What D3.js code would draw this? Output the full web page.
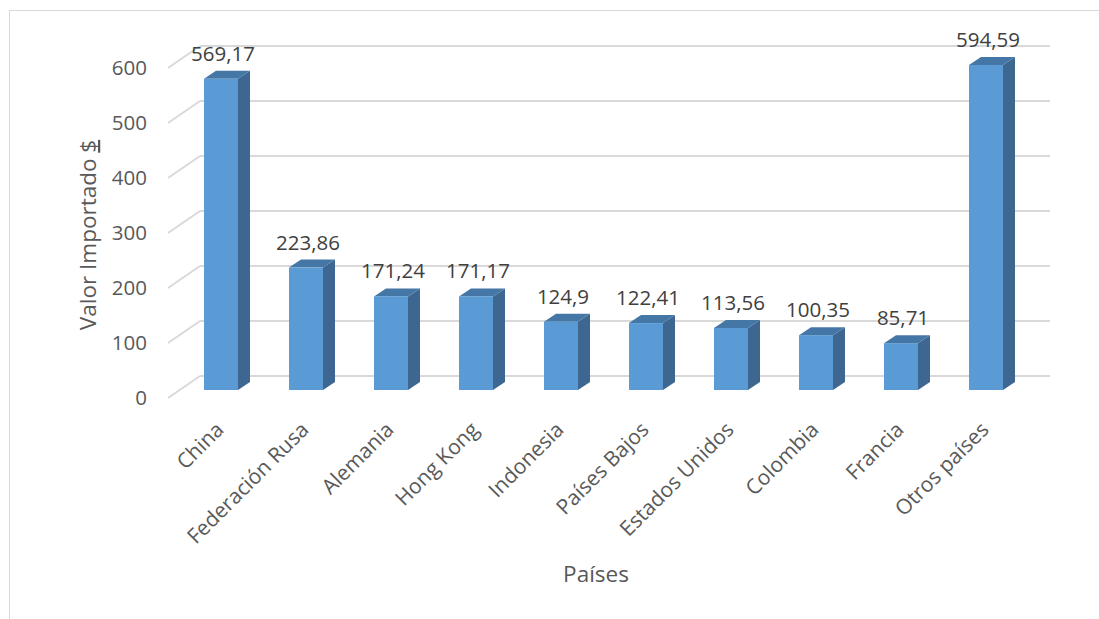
<!DOCTYPE html>
<html>
<head>
<meta charset="utf-8">
<script src="https://cdn.jsdelivr.net/npm/d3@7"></script>
<style>
  html, body { margin: 0; padding: 0; background: #ffffff; }
  svg { display: block; font-family: "Open Sans", "Noto Sans", sans-serif; }
</style>
</head>
<body>
<svg id="chart" width="1099" height="619"></svg>
<script>
const categories = ["China", "Federación Rusa", "Alemania", "Hong Kong", "Indonesia",
  "Países Bajos", "Estados Unidos", "Colombia", "Francia", "Otros países"];
const values = [569.17, 223.86, 171.24, 171.17, 124.9, 122.41, 113.56, 100.35, 85.71, 594.59];
const valueLabels = ["569,17", "223,86", "171,24", "171,17", "124,9", "122,41", "113,56", "100,35", "85,71", "594,59"];
const yTicks = [0, 100, 200, 300, 400, 500, 600];
const yTitle = "Valor Importado ";
const yTitleUnit = "$";
const xTitle = "Países";

const svg = d3.select("#chart");

// chart border
svg.append("rect")
  .attr("x", 9.5).attr("y", 10.5).attr("width", 1200).attr("height", 700)
  .attr("fill", "none").attr("stroke", "#d9d9d9").attr("stroke-width", 1);

// 3D geometry
const depth = { dx: 32, dy: -22 };     // floor depth (front -> back wall)
const barDepth = { dx: 12, dy: -8 };   // bar thickness
const barWidth = 34;

// front plane scale (axis labels) and back wall scale
const yFront = d3.scaleLinear().domain([0, 600]).range([398, 68]);
const yBack = v => yFront(v) + depth.dy;
// bars sit partway into the depth
const yBar = d3.scaleLinear().domain([0, 600]).range([390, 390 - 328]);

const x = d3.scalePoint().domain(categories).range([221, 986]);

const gridColor = "#d9d9d9";
const gx0 = 168, gx1 = 168 + depth.dx, gx2 = 1050;

// back wall gridlines + left side diagonals
const grid = svg.append("g");
yTicks.forEach(t => {
  grid.append("line")
    .attr("x1", gx1).attr("x2", gx2)
    .attr("y1", yBack(t)).attr("y2", yBack(t))
    .attr("stroke", gridColor).attr("stroke-width", 2);
  grid.append("line")
    .attr("x1", gx0).attr("y1", yFront(t))
    .attr("x2", gx1).attr("y2", yBack(t))
    .attr("stroke", gridColor).attr("stroke-width", 2);
});

// y tick labels
svg.append("g").selectAll("text").data(yTicks).join("text")
  .attr("x", 147).attr("y", d => yFront(d))
  .attr("dy", "0.35em")
  .attr("text-anchor", "end")
  .attr("font-size", 20.5)
  .attr("fill", "#595959")
  .text(d => d);

// bars
const data = categories.map((c, i) => ({ c, v: values[i], lab: valueLabels[i] }));
const bars = svg.append("g").selectAll("g").data(data).join("g");

bars.each(function(d) {
  const g = d3.select(this);
  const xl = x(d.c) - barWidth / 2, xr = x(d.c) + barWidth / 2;
  const yt = yBar(d.v), yb = yBar(0);
  const ddx = barDepth.dx, ddy = barDepth.dy;
  // side face
  g.append("path")
    .attr("d", `M${xr},${yb} L${xr + ddx},${yb + ddy} L${xr + ddx},${yt + ddy} L${xr},${yt} Z`)
    .attr("fill", "#3d6790");
  // top face
  g.append("path")
    .attr("d", `M${xl},${yt} L${xl + ddx},${yt + ddy} L${xr + ddx},${yt + ddy} L${xr},${yt} Z`)
    .attr("fill", "#4577a6");
  // front face
  g.append("rect")
    .attr("x", xl).attr("y", yt)
    .attr("width", barWidth).attr("height", yb - yt)
    .attr("fill", "#5b9bd5");
  // value label
  g.append("text")
    .attr("x", x(d.c) + 2).attr("y", yt + ddy - 10)
    .attr("text-anchor", "middle")
    .attr("font-size", 20.5)
    .attr("fill", "#404040")
    .text(d.lab);
});

// x category labels
svg.append("g").selectAll("text").data(categories).join("text")
  .attr("transform", d => `translate(${x(d) + 4},431) rotate(-45)`)
  .attr("text-anchor", "end")
  .attr("font-size", 21)
  .attr("fill", "#595959")
  .text(d => d);

// axis titles
const yt = svg.append("text")
  .attr("transform", "translate(96,235) rotate(-90)")
  .attr("text-anchor", "middle")
  .attr("font-size", 22.5)
  .attr("fill", "#595959");
yt.append("tspan").text(yTitle);
yt.append("tspan").attr("text-decoration", "underline").text(yTitleUnit);

svg.append("text")
  .attr("x", 596).attr("y", 582)
  .attr("text-anchor", "middle")
  .attr("font-size", 22.5)
  .attr("fill", "#595959")
  .text(xTitle);
</script>
</body>
</html>
